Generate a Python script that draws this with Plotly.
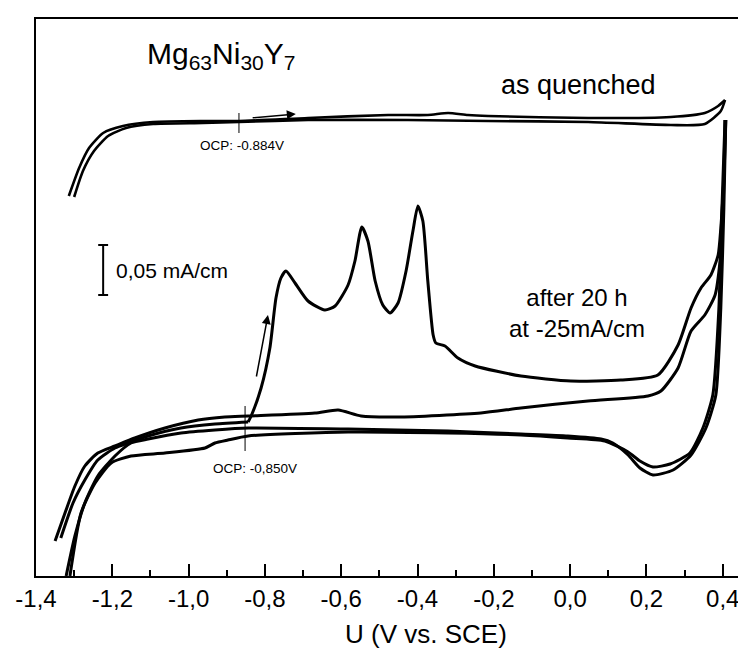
import plotly.graph_objects as go

# ---------- data (U in V vs. SCE, current density in mA/cm^2, arbitrary offset) ----------
# as quenched
aq_fwd_u = [-1.314, -1.287, -1.261, -1.224, -1.172, -1.093, -0.962, -0.868, -0.687, -0.477,
            -0.373, -0.320, -0.268, -0.215, 0.047, 0.264, 0.353, 0.388, 0.406]
aq_fwd_i = [0.380, 0.408, 0.428, 0.443, 0.450, 0.454, 0.455, 0.455, 0.458, 0.461,
            0.461, 0.463, 0.461, 0.460, 0.458, 0.459, 0.463, 0.470, 0.476]
aq_rev_u = [0.406, 0.395, 0.353, 0.264, 0.047, -0.215, -0.425, -0.687, -0.868, -0.962,
            -1.093, -1.164, -1.211, -1.248, -1.277, -1.300]
aq_rev_i = [0.476, 0.465, 0.452, 0.451, 0.454, 0.455, 0.456, 0.456, 0.454, 0.453,
            0.452, 0.448, 0.440, 0.425, 0.405, 0.379]

# after 20 h at -25 mA/cm
ah_pre_u = [-1.335, -1.303, -1.272, -1.238, -1.193, -1.159, -1.106, -1.020, -0.931, -0.844]
ah_pre_i = [0.038, 0.073, 0.096, 0.116, 0.128, 0.133, 0.140, 0.148, 0.152, 0.154]

ah_an1_u = [-0.844, -0.836, -0.810, -0.787, -0.771, -0.758, -0.745, -0.721, -0.687, -0.643,
            -0.616, -0.582, -0.564, -0.546, -0.530, -0.511, -0.491, -0.472, -0.451, -0.430,
            -0.412, -0.399, -0.386, -0.373, -0.359, -0.352, -0.328, -0.294, -0.249, -0.129,
            0.002, 0.133, 0.230, 0.283, 0.317, 0.343, 0.369, 0.388, 0.395, 0.403, 0.408]
ah_an1_i = [0.154, 0.160, 0.188, 0.228, 0.278, 0.298, 0.305, 0.293, 0.275, 0.266,
            0.270, 0.291, 0.315, 0.349, 0.335, 0.295, 0.271, 0.263, 0.273, 0.305,
            0.345, 0.370, 0.355, 0.295, 0.241, 0.233, 0.230, 0.218, 0.210, 0.200,
            0.195, 0.196, 0.201, 0.231, 0.268, 0.288, 0.301, 0.321, 0.348, 0.398, 0.456]

ah_ca1_u = [0.408, 0.403, 0.395, 0.382, 0.356, 0.317, 0.270, 0.217, 0.183, 0.152,
            0.112, 0.081, -0.006, -0.129, -0.320, -0.582, -0.844, -0.931, -1.020, -1.106,
            -1.151, -1.193, -1.238, -1.272, -1.298, -1.321]
ah_ca1_i = [0.456, 0.368, 0.268, 0.181, 0.148, 0.121, 0.106, 0.101, 0.108, 0.121,
            0.133, 0.137, 0.140, 0.142, 0.145, 0.147, 0.148, 0.146, 0.143, 0.137,
            0.133, 0.120, 0.100, 0.073, 0.040, 0.000]

ah_an2_u = [-1.350, -1.324, -1.298, -1.272, -1.238, -1.193, -1.141, -1.062, -0.975, -0.905,
            -0.844, -0.669, -0.608, -0.548, -0.451, -0.234, -0.129, 0.047, 0.204, 0.238,
            0.283, 0.317, 0.353, 0.380, 0.393, 0.401, 0.406]
ah_an2_i = [0.035, 0.063, 0.090, 0.110, 0.123, 0.130, 0.138, 0.148, 0.156, 0.159,
            0.160, 0.163, 0.166, 0.160, 0.159, 0.163, 0.168, 0.175, 0.180, 0.185,
            0.208, 0.245, 0.261, 0.281, 0.315, 0.368, 0.456]

ah_ca2_u = [0.406, 0.398, 0.390, 0.374, 0.348, 0.314, 0.262, 0.217, 0.183, 0.152,
            0.091, -0.006, -0.129, -0.320, -0.582, -0.844, -0.897, -0.931, -0.957, -1.062,
            -1.151, -1.203, -1.245, -1.282, -1.311]
ah_ca2_i = [0.456, 0.368, 0.268, 0.181, 0.148, 0.123, 0.112, 0.109, 0.115, 0.124,
            0.135, 0.138, 0.141, 0.143, 0.144, 0.140, 0.136, 0.133, 0.128, 0.123,
            0.120, 0.113, 0.093, 0.063, 0.000]

tick_vals = [-1.4, -1.2, -1.0, -0.8, -0.6, -0.4, -0.2, 0.0, 0.2, 0.4]
tick_text = ["-1,4", "-1,2", "-1,0", "-0,8", "-0,6", "-0,4", "-0,2", "0,0", "0,2", "0,4"]

ocp_top_u = -0.868
ocp_low_u = -0.852
scale_u = -1.224
scale_lo, scale_hi = 0.281, 0.331

FONT = "Liberation Sans, Arial, sans-serif"

fig = go.Figure()
curves = [
    (aq_fwd_u, aq_fwd_i, 2.6), (aq_rev_u, aq_rev_i, 2.6),
    (ah_pre_u, ah_pre_i, 3), (ah_an1_u, ah_an1_i, 3), (ah_ca1_u, ah_ca1_i, 3),
    (ah_an2_u, ah_an2_i, 3), (ah_ca2_u, ah_ca2_i, 3),
]
for u, i, w in curves:
    fig.add_trace(go.Scatter(x=u, y=i, mode="lines",
                             line=dict(color="black", width=w, shape="spline", smoothing=0.6),
                             showlegend=False, hoverinfo="skip"))

shapes = [
    dict(type="line", xref="x", yref="y", x0=ocp_top_u, x1=ocp_top_u, y0=0.443, y1=0.463,
         line=dict(color="black", width=1)),
    dict(type="line", xref="x", yref="y", x0=ocp_low_u, x1=ocp_low_u, y0=0.125, y1=0.170,
         line=dict(color="black", width=1)),
    dict(type="line", xref="x", yref="y", x0=scale_u, x1=scale_u, y0=scale_lo, y1=scale_hi,
         line=dict(color="black", width=2)),
    dict(type="line", xref="x", yref="y", x0=scale_u - 0.013, x1=scale_u + 0.013, y0=scale_lo, y1=scale_lo,
         line=dict(color="black", width=2)),
    dict(type="line", xref="x", yref="y", x0=scale_u - 0.013, x1=scale_u + 0.013, y0=scale_hi, y1=scale_hi,
         line=dict(color="black", width=2)),
]

annotations = [
    dict(x=0.258, y=0.935, xref="paper", yref="paper", showarrow=False, xanchor="center", yanchor="middle",
         text="Mg<sub>63</sub>Ni<sub>30</sub>Y<sub>7</sub>", font=dict(size=30, family=FONT, color="black")),
    dict(x=0.755, y=0.881, xref="paper", yref="paper", showarrow=False, xanchor="center", yanchor="middle",
         text="as quenched", font=dict(size=27, family=FONT, color="black")),
    dict(x=0.1086, y=0.549, xref="paper", yref="paper", showarrow=False, xanchor="left", yanchor="middle",
         text="0,05 mA/cm", font=dict(size=21, family=FONT, color="black")),
    dict(x=0.753, y=0.473, xref="paper", yref="paper", showarrow=False, xanchor="center", yanchor="middle",
         align="center", text="after 20 h<br>at -25mA/cm", font=dict(size=24, family=FONT, color="black")),
    dict(x=ocp_top_u + 0.007, y=0.431, xref="x", yref="y", showarrow=False,
         text="OCP: -0.884V", font=dict(size=13.5, family=FONT, color="black")),
    dict(x=ocp_low_u + 0.027, y=0.108, xref="x", yref="y", showarrow=False,
         text="OCP: -0,850V", font=dict(size=13.5, family=FONT, color="black")),
    dict(x=-0.719, y=0.462, ax=-0.836, ay=0.458, xref="x", yref="y", axref="x", ayref="y",
         showarrow=True, arrowhead=2, arrowsize=1.2, arrowwidth=1.5, arrowcolor="black", text=""),
    dict(x=-0.792, y=0.261, ax=-0.823, ay=0.198, xref="x", yref="y", axref="x", ayref="y",
         showarrow=True, arrowhead=2, arrowsize=1.2, arrowwidth=1.5, arrowcolor="black", text=""),
    dict(x=0.543, y=-0.104, xref="paper", yref="paper", showarrow=False, xanchor="center", yanchor="middle",
         text="U (V vs. SCE)", font=dict(size=26, family=FONT, color="black")),
]

fig.update_layout(
    width=746, height=650,
    margin=dict(l=28, r=0, t=11, b=82, autoexpand=False),
    paper_bgcolor="white", plot_bgcolor="white",
    shapes=shapes, annotations=annotations,
    showlegend=False,
)
fig.update_xaxes(
    range=[-1.4, 0.482], showgrid=False, zeroline=False, automargin=False,
    showline=True, linecolor="black", linewidth=2, mirror=True,
    ticks="inside", ticklen=12, tickwidth=2, tickcolor="black",
    tickvals=tick_vals, ticktext=tick_text,
    tickfont=dict(size=24, family=FONT, color="black"),
    minor=dict(ticks="inside", ticklen=6, tickwidth=2, tickcolor="black", dtick=0.1, tick0=-1.4, showgrid=False),
)
fig.update_yaxes(
    range=[0, 0.557], showgrid=False, zeroline=False, automargin=False,
    showline=True, linecolor="black", linewidth=2,
    showticklabels=False, ticks="",
)

fig.write_html("out.html")
